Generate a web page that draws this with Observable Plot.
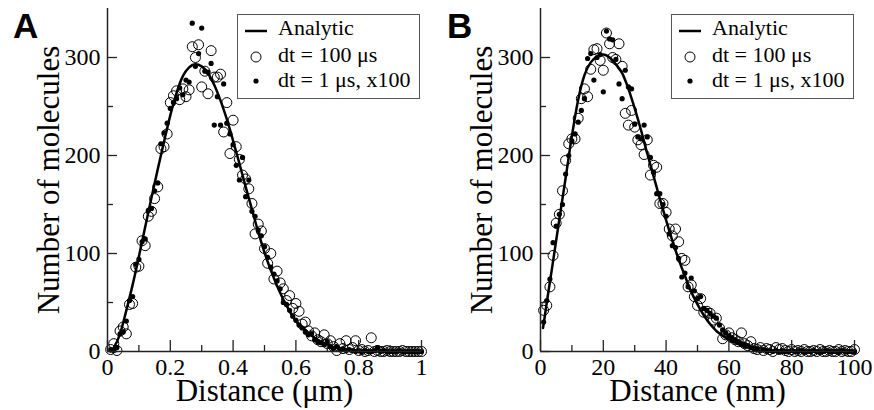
<!DOCTYPE html>
<html><head><meta charset="utf-8">
<script src="https://cdn.jsdelivr.net/npm/d3@7"></script>
<script src="https://cdn.jsdelivr.net/npm/@observablehq/plot@0.6"></script>
<style>
body{margin:0;background:#fff;}
#wrap{position:relative;width:874px;height:410px;display:flex;}
.panel{position:relative;width:437px;height:410px;}
#overlay{position:absolute;left:0;top:0;pointer-events:none;}
</style></head><body><div id="wrap"><div class="panel" id="pA"></div><div class="panel" id="pB"></div><svg id="overlay" width="874" height="410"></svg></div>
<script>
// ---------------- data ----------------
const panelLetters = ["A", "B"];
const yLabel = "Number of molecules";
const xLabelA = "Distance (μm)";
const xLabelB = "Distance (nm)";
const legendLabels = ["Analytic", "dt = 100 μs", "dt = 1 μs, x100"];
const yMajor = [0, 100, 200, 300];
const yMinor = [50, 150, 250];
const xMajorA = [0, 0.2, 0.4, 0.6, 0.8, 1];
const xMinorA = [0.1, 0.3, 0.5, 0.7, 0.9];
const xMajorB = [0, 20, 40, 60, 80, 100];
const xMinorB = [10, 30, 50, 70, 90];

// Panel A bin centres (µm) and counts
const binsA = d3.range(1, 101).map(i => +(i / 100).toFixed(2));
const circlesA = [
  2, 8, 1, 21, 25, 18, 48, 49, 86, 87,
  113, 108, 138, 143, 156, 168, 207, 209, 222, 254,
  261, 266, 257, 268, 260, 267, 311, 300, 313, 270,
  286, 263, 307, 280, 280, 283, 224, 254, 202, 236,
  209, 196, 180, 176, 166, 151, 120, 130, 123, 105,
  90, 100, 74, 82, 70, 64, 52, 57, 44, 49,
  41, 28, 30, 21, 16, 19, 12, 10, 17, 8,
  11, 5, 1, 8, 3, 11, 2, 4, 11, 1,
  2, 0, 1, 14, 0, 1, 0, 0, 1, 0,
  0, 0, 0, 1, 0, 0, 0, 0, 0, 0
];
const dotsA = [
  2, 1, 4, 18, 20, 31, 52, 56, 89, 94,
  112, 115, 144, 146, 164, 172, 212, 223, 233, 248,
  254, 258, 269, 262, 277, 275, 335, 291, 304, 330,
  286, 285, 294, 231, 260, 231, 273, 233, 222, 211,
  190, 175, 198, 158, 175, 143, 138, 124, 118, 107,
  96, 86, 79, 72, 64, 50, 48, 42, 36, 32,
  27, 24, 20, 17, 18, 12, 10, 9, 7, 10,
  5, 3, 5, 2, 3, 1, 2, 1, 0, 1,
  0, 1, 0, 0, 1, 4, 0, 1, 0, 0,
  0, 0, 1, 0, 0, 0, 0, 0, 0, 0
];
const curveAx = [0.01, 0.02, 0.04, 0.06, 0.08, 0.10, 0.12, 0.14, 0.16, 0.18, 0.20, 0.22, 0.24, 0.26, 0.28, 0.30, 0.32, 0.34, 0.36, 0.38, 0.40, 0.42, 0.44, 0.46, 0.48, 0.50, 0.52, 0.54, 0.56, 0.58, 0.60, 0.62, 0.64, 0.66, 0.68, 0.70, 0.72, 0.74, 0.76, 0.78, 0.80, 0.85, 0.90, 1.0];
const curveAy = [0, 4, 18, 42, 68, 97, 127, 157, 186, 214, 241, 264, 281, 290, 293, 291, 284, 272, 256, 237, 215, 192, 168, 145, 122, 101, 83, 67, 53, 41, 31, 25, 19, 14, 10, 7, 4.5, 3, 1.8, 1, 0.6, 0.1, 0, 0];

// Panel B bin centres (nm) and counts
const binsB = d3.range(1, 101);
const circlesB = [
  42, 47, 66, 98, 131, 140, 164, 195, 212, 217,
  217, 238, 258, 268, 260, 288, 308, 309, 297, 287,
  325, 314, 300, 298, 314, 291, 243, 231, 246, 229,
  216, 211, 201, 216, 180, 190, 188, 151, 151, 142,
  125, 118, 125, 112, 95, 93, 66, 68, 56, 47,
  54, 40, 41, 39, 32, 34, 24, 13, 17, 19,
  14, 12, 10, 19, 8, 6, 10, 3, 2, 4,
  1, 3, 2, 0, 4, 2, 3, 1, 0, 2,
  0, 1, 0, 2, 0, 0, 1, 0, 2, 0,
  0, 1, 0, 0, 2, 0, 1, 0, 0, 2
];
const dotsB = [
  30, 52, 74, 111, 128, 140, 150, 181, 200, 215,
  222, 234, 246, 258, 299, 304, 277, 300, 303, 265,
  327, 319, 318, 298, 273, 258, 287, 270, 268, 232,
  219, 217, 231, 219, 198, 183, 161, 161, 150, 138,
  120, 108, 106, 95, 76, 80, 66, 75, 62, 54,
  56, 44, 42, 39, 36, 34, 27, 22, 19, 16,
  14, 12, 10, 8, 7, 6, 4, 3, 3, 2,
  2, 1, 1, 0, 1, 0, 1, 0, 0, 1,
  0, 0, 1, 0, 0, 0, 1, 0, 0, 0,
  1, 0, 0, 0, 0, 1, 0, 0, 0, 0
];
const curveBx = [0.8, 1, 2, 4, 6, 8, 10, 12, 14, 16, 18, 20, 22, 24, 26, 28, 30, 32, 34, 36, 38, 40, 42, 44, 46, 48, 50, 52, 54, 56, 58, 60, 62, 64, 66, 68, 70, 72, 76, 80, 90, 100];
const curveBy = [24, 28, 50, 92, 135, 177, 220, 257, 282, 295, 301, 303, 300, 293, 284, 268, 248, 226, 202, 179, 156, 134, 113, 94, 77, 61, 48, 37, 28, 21, 16, 12, 9, 6, 4, 2.5, 1.5, 1, 0.5, 0.2, 0, 0];

// ---------------- drawing ----------------
const SERIF = "'Liberation Serif', 'Times New Roman', serif";
const W = 437, H = 410, MT = 8, MB = 59;
const axisColor = "#222";

function panel({xDomain, xMajor, xMinor, xLabel, bins, circles, dots, cx, cy, marginLeft, marginRight}) {
  const pw = W - marginLeft - marginRight, ph = H - MT - MB;
  const circ = bins.map((x, i) => ({x, y: circles[i]}));
  const dot = bins.map((x, i) => ({x, y: dots[i]}));
  const curve = cx.map((x, i) => ({x, y: cy[i]}));
  return Plot.plot({
    width: W, height: H, marginLeft, marginRight, marginTop: MT, marginBottom: MB,
    x: {domain: xDomain, axis: null},
    y: {domain: [0, 350], axis: null},
    style: {fontFamily: SERIF, background: "transparent", color: "#000", overflow: "visible"},
    marks: [
      Plot.dot(circ, {x: "x", y: "y", r: 5, stroke: "#000", strokeWidth: 1, fill: "none"}),
      Plot.dot(dot, {x: "x", y: "y", r: 2.6, fill: "#000", stroke: "none"}),
      Plot.line(curve, {x: "x", y: "y", stroke: "#000", strokeWidth: 2.5, curve: "monotone-x"}),
      Plot.ruleX([xDomain[0]], {stroke: axisColor, strokeWidth: 1.5}),
      Plot.ruleY([0], {stroke: axisColor, strokeWidth: 1.5}),
      Plot.tickY(yMajor, {y: d => d, insetRight: pw - 10, stroke: axisColor, strokeWidth: 1.3}),
      Plot.tickY(yMinor, {y: d => d, insetRight: pw - 6, stroke: axisColor, strokeWidth: 1.3}),
      Plot.tickX(xMajor, {x: d => d, insetTop: ph - 11, stroke: axisColor, strokeWidth: 1.3}),
      Plot.tickX(xMinor, {x: d => d, insetTop: ph - 6, stroke: axisColor, strokeWidth: 1.3}),
      // tick labels
      Plot.text(yMajor, {y: d => d, text: d => String(d), frameAnchor: "left", textAnchor: "end", dx: -7, fontSize: 24, fontFamily: SERIF, fill: "#000"}),
      Plot.text(xMajor, {x: d => d, text: d => String(d), frameAnchor: "bottom", textAnchor: "middle", lineAnchor: "top", dy: 6, fontSize: 24, fontFamily: SERIF, fill: "#000"}),
      // axis titles
      Plot.text([yLabel], {frameAnchor: "left", textAnchor: "middle", rotate: -90, dx: -71, lineAnchor: "top", fontSize: 31, fontFamily: SERIF, fill: "#000"}),
      Plot.text([xLabel], {frameAnchor: "bottom", textAnchor: "middle", dy: 27, lineAnchor: "top", fontSize: 31, fontFamily: SERIF, fill: "#000"})
    ]
  });
}

document.getElementById("pA").append(panel({
  xDomain: [0, 1], xMajor: xMajorA, xMinor: xMinorA, xLabel: xLabelA,
  bins: binsA, circles: circlesA, dots: dotsA, cx: curveAx, cy: curveAy,
  marginLeft: 107, marginRight: 16
}));
document.getElementById("pB").append(panel({
  xDomain: [0, 100], xMajor: xMajorB, xMinor: xMinorB, xLabel: xLabelB,
  bins: binsB, circles: circlesB, dots: dotsB, cx: curveBx, cy: curveBy,
  marginLeft: 103, marginRight: 20
}));

// overlay: panel letters and legends
const ov = d3.select("#overlay");
const letterPos = [[13, 38], [447, 38]];
panelLetters.forEach((L, i) => {
  ov.append("text").attr("x", letterPos[i][0]).attr("y", letterPos[i][1])
    .attr("font-family", "'Liberation Sans', Arial, sans-serif").attr("font-weight", "bold")
    .attr("font-size", 35).text(L);
});
const legendPos = [[237, 14], [671, 14]];
legendPos.forEach(([lx, ly]) => {
  const g = ov.append("g").attr("transform", `translate(${lx},${ly})`);
  g.append("rect").attr("x", 0.5).attr("y", 0.5).attr("width", 182).attr("height", 84)
    .attr("fill", "#fff").attr("stroke", "#555").attr("stroke-width", 1);
  g.append("line").attr("x1", 8).attr("x2", 30).attr("y1", 17).attr("y2", 17)
    .attr("stroke", "#000").attr("stroke-width", 2.5);
  g.append("circle").attr("cx", 19).attr("cy", 43).attr("r", 5)
    .attr("fill", "none").attr("stroke", "#000").attr("stroke-width", 1);
  g.append("circle").attr("cx", 19).attr("cy", 67).attr("r", 2.6).attr("fill", "#000");
  const base = [21, 47.5, 72.5];
  legendLabels.forEach((t, i) => {
    g.append("text").attr("x", 41).attr("y", base[i]).attr("font-family", SERIF)
      .attr("font-size", 22).text(t);
  });
});
</script></body></html>
